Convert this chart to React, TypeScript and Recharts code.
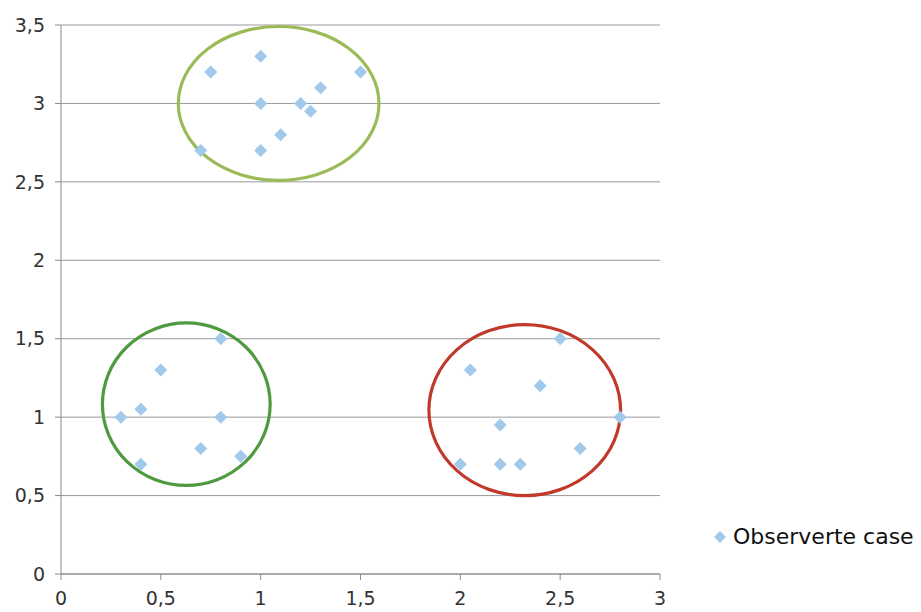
import React from 'react';
import { ScatterChart, Scatter, XAxis, YAxis, CartesianGrid, ReferenceArea } from 'recharts';

const xValues = [0.75, 1, 1, 0.7, 1, 1.1, 1.2, 1.25, 1.3, 1.5, 0.3, 0.4, 0.4, 0.5, 0.7, 0.8, 0.8, 0.9, 2, 2.05, 2.2, 2.2, 2.3, 2.4, 2.5, 2.6, 2.8];
const yValues = [3.2, 3.3, 3, 2.7, 2.7, 2.8, 3, 2.95, 3.1, 3.2, 1, 1.05, 0.7, 1.3, 0.8, 1.5, 1, 0.75, 0.7, 1.3, 0.95, 0.7, 0.7, 1.2, 1.5, 0.8, 1];

// cluster ellipses as bounding boxes in data units
const ellipseX1 = [0.58, 0.2, 1.835];
const ellipseX2 = [1.6, 1.055, 2.81];
const ellipseY1 = [2.5, 0.555, 0.49];
const ellipseY2 = [3.5, 1.61, 1.6];
const ellipseColors = ['#9bbb59', '#4f9a3f', '#c0392b'];

const xTicks = [0, 0.5, 1, 1.5, 2, 2.5, 3];
const yTicks = [0, 0.5, 1, 1.5, 2, 2.5, 3, 3.5];

const points = xValues.map((x, i) => ({ x, y: yValues[i] }));
const fmt = (v: number) => String(v).replace('.', ',');

const Diamond = (props: any) => {
  const { cx, cy } = props;
  const r = 6.5;
  return <polygon points={`${cx},${cy - r} ${cx + r},${cy} ${cx},${cy + r} ${cx - r},${cy}`} fill="#a0c9ec" />;
};

const Ellipse = (color: string) => (props: any) => {
  const { x, y, width, height } = props;
  return (
    <ellipse cx={x + width / 2} cy={y + height / 2} rx={width / 2 - 1.5} ry={height / 2 - 1.5}
      fill="none" stroke={color} strokeWidth={3.2} />
  );
};

const tickStyle = { fill: '#333', fontSize: 19, fontFamily: 'DejaVu Sans' };

export default function App() {
  return (
    <div style={{ position: 'relative', width: 921, height: 612, background: '#fff' }}>
      <style>{`body{margin:0}`}</style>
      <ScatterChart width={921} height={612} margin={{ top: 25, right: 261, bottom: 0, left: 0 }}>
        <CartesianGrid horizontal vertical={false} stroke="#9a9a9a" />
        <XAxis type="number" dataKey="x" domain={[0, 3]} ticks={xTicks} tickFormatter={fmt}
          stroke="#8a8a8a" tick={tickStyle} tickSize={6} tickMargin={12} height={38} />
        <YAxis type="number" dataKey="y" domain={[0, 3.5]} ticks={yTicks} tickFormatter={fmt}
          stroke="#8a8a8a" tick={tickStyle} tickSize={6} tickMargin={10} width={61} />
        {ellipseColors.map((c, i) => (
          <ReferenceArea key={i} x1={ellipseX1[i]} x2={ellipseX2[i]} y1={ellipseY1[i]} y2={ellipseY2[i]}
            shape={Ellipse(c)} />
        ))}
        <Scatter data={points} shape={<Diamond />} isAnimationActive={false} />
      </ScatterChart>
      <div style={{ position: 'absolute', left: 712, top: 524, display: 'flex', alignItems: 'center',
        fontFamily: 'DejaVu Sans', fontSize: 22, color: '#111' }}>
        <svg width={16} height={16} style={{ marginRight: 5 }}>
          <polygon points="8,2 14,8 8,14 2,8" fill="#a0c9ec" />
        </svg>
        Observerte case
      </div>
    </div>
  );
}
